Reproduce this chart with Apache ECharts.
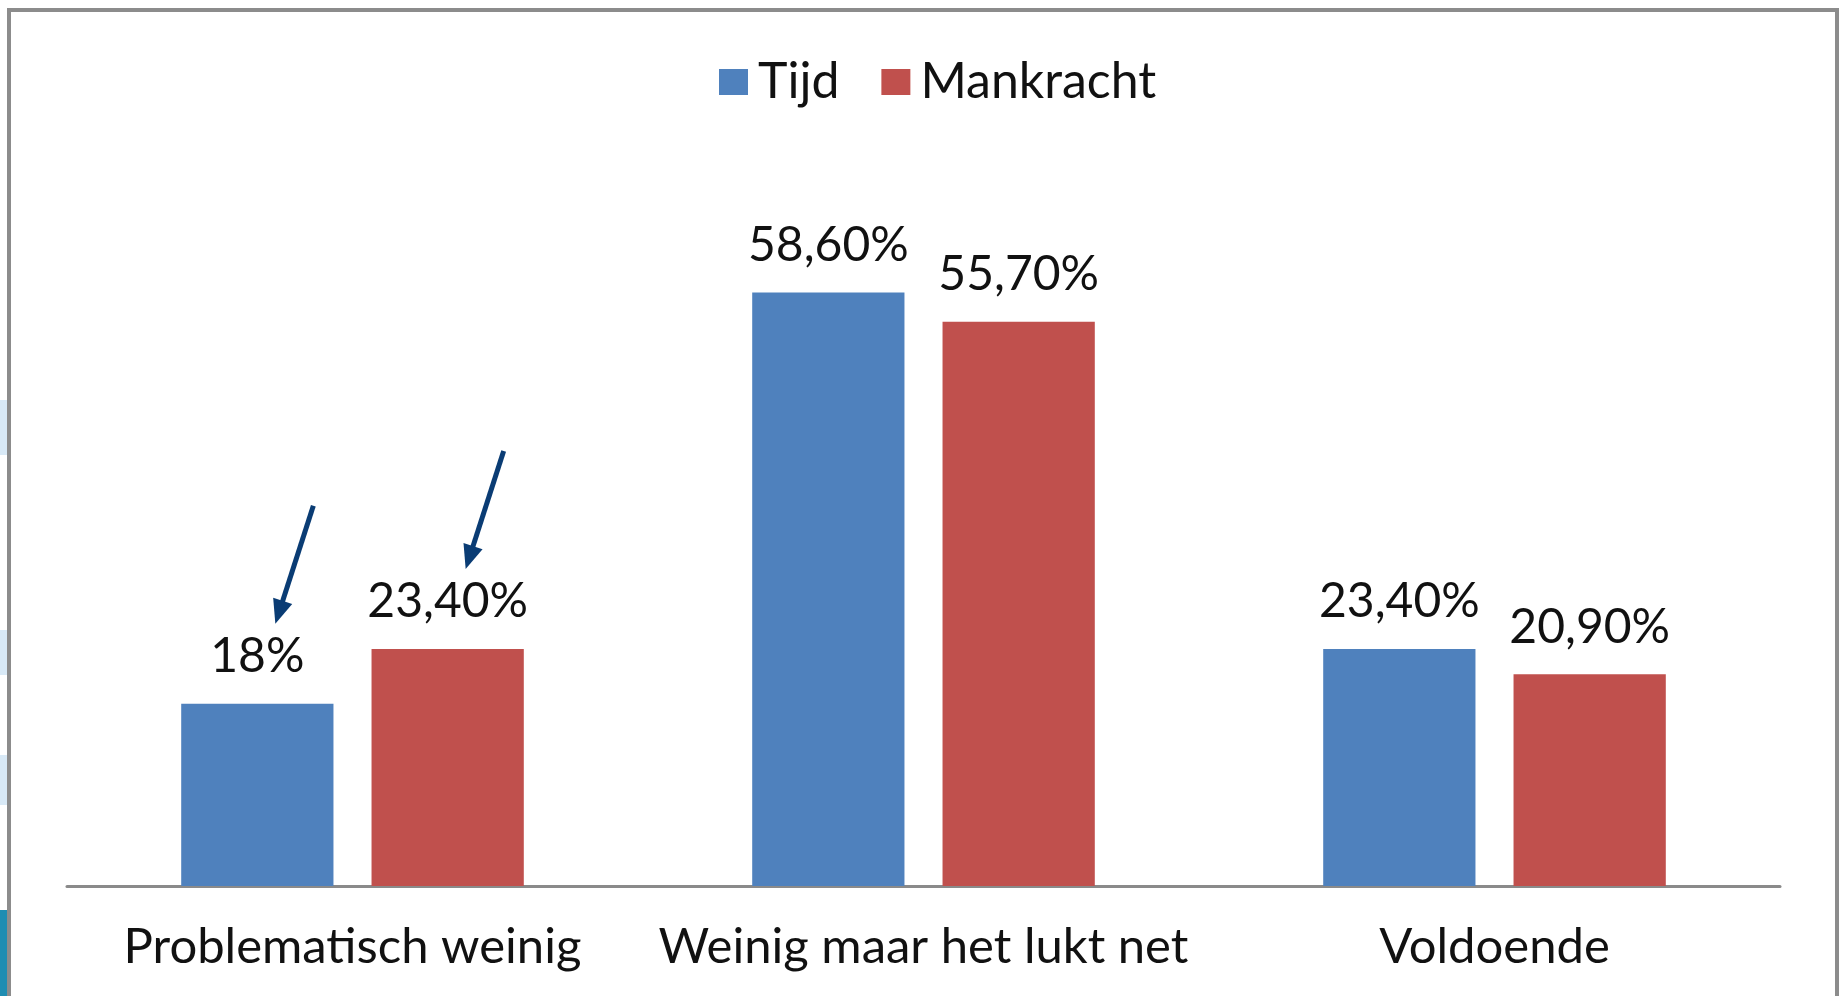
<!DOCTYPE html>
<html>
<head>
<meta charset="utf-8">
<title>Tijd en mankracht</title>
<script src="https://cdn.jsdelivr.net/npm/echarts@6/dist/echarts.min.js"></script>
<style>
    html, body {margin: 0; padding: 0; background: #fff;}
    #main {width: 1841px; height: 996px;}
</style>
</head>
<body>
<div id="main"></div>
<script>
var categories = ['Problematisch weinig', 'Weinig maar het lukt net', 'Voldoende'];
var tijd = [18, 58.6, 23.4];
var mankracht = [23.4, 55.7, 20.9];
var tijdLabels = ['18%', '58,60%', '23,40%'];
var mankrachtLabels = ['23,40%', '55,70%', '20,90%'];

var FONT = 'Lato';

var chart = echarts.init(document.getElementById('main'));

function barSeries(name, values, labels, color) {
    return {
        name: name,
        type: 'bar',
        data: values,
        barGap: '25%',
        barCategoryGap: '40%',
        itemStyle: {color: color},
        label: {
            show: true,
            position: 'top',
            distance: 23,
            fontFamily: FONT,
            fontSize: 48,
            color: '#111',
            formatter: function (p) { return labels[p.dataIndex]; }
        }
    };
}

chart.setOption({
    backgroundColor: '#fff',
    animation: false,
    legend: {
        left: 714,
        top: 52,
        icon: 'rect',
        itemWidth: 29,
        itemHeight: 26,
        itemGap: 42,
        itemStyle: {borderWidth: 0},
        textStyle: {fontFamily: FONT, fontSize: 50, color: '#111', padding: [0, 0, 0, 5]},
        data: ['Tijd', 'Mankracht']
    },
    grid: {  // plot area
        left: 67,
        right: 61,
        top: 177,
        bottom: 110
    },
    xAxis: {
        type: 'category',
        data: categories,
        axisTick: {show: false},
        axisLine: {lineStyle: {color: '#8a8a8a', width: 3}},
        axisLabel: {
            interval: 0,
            margin: 37,
            fontFamily: FONT,
            fontSize: 49,
            color: '#111'
        }
    },
    yAxis: {
        type: 'value',
        min: 0,
        max: 70,
        show: false,
        splitLine: {show: false}
    },
    series: [
        barSeries('Tijd', tijd, tijdLabels, '#4f81bd'),
        barSeries('Mankracht', mankracht, mankrachtLabels, '#c0504d')
    ]
});

// arrows pointing at the first two labels, placed from the bar layout
function arrow(seriesIndex, dataIndex) {
    var layout = chart.getModel().getSeriesByIndex(seriesIndex).getData().getItemLayout(dataIndex);
    var cx = layout.x + layout.width / 2;
    var top = layout.y + Math.min(layout.height, 0);
    var tip = [cx + 18, top - 80];
    var tail = [cx + 56, top - 198];
    var dx = tip[0] - tail[0], dy = tip[1] - tail[1];
    var len = Math.sqrt(dx * dx + dy * dy);
    var ux = dx / len, uy = dy / len;
    var base = [tip[0] - ux * 24, tip[1] - uy * 24];
    return [{
        type: 'line',
        shape: {x1: tail[0], y1: tail[1], x2: base[0] + ux * 4, y2: base[1] + uy * 4},
        style: {stroke: '#0a3c74', lineWidth: 5}
    }, {
        type: 'polygon',
        shape: {points: [tip, [base[0] - uy * 10, base[1] + ux * 10], [base[0] + uy * 10, base[1] - ux * 10]]},
        style: {fill: '#0a3c74'}
    }];
}

chart.setOption({
    graphic: [
        // slide background peeking out at the left
        {type: 'rect', shape: {x: 0, y: 400, width: 7, height: 55}, style: {fill: '#d8e9f6'}, z: -1},
        {type: 'rect', shape: {x: 0, y: 630, width: 7, height: 45}, style: {fill: '#d8e9f6'}, z: -1},
        {type: 'rect', shape: {x: 0, y: 755, width: 7, height: 50}, style: {fill: '#d8e9f6'}, z: -1},
        {type: 'rect', shape: {x: 0, y: 910, width: 7, height: 86}, style: {fill: '#1f8db2'}, z: -1},
        // frame
        {type: 'rect', shape: {x: 9, y: 10, width: 1828, height: 1000},
            style: {fill: 'none', stroke: '#8c8c8c', lineWidth: 4}, silent: true}
    ].concat(arrow(0, 0), arrow(1, 0))
});
</script>
</body>
</html>
